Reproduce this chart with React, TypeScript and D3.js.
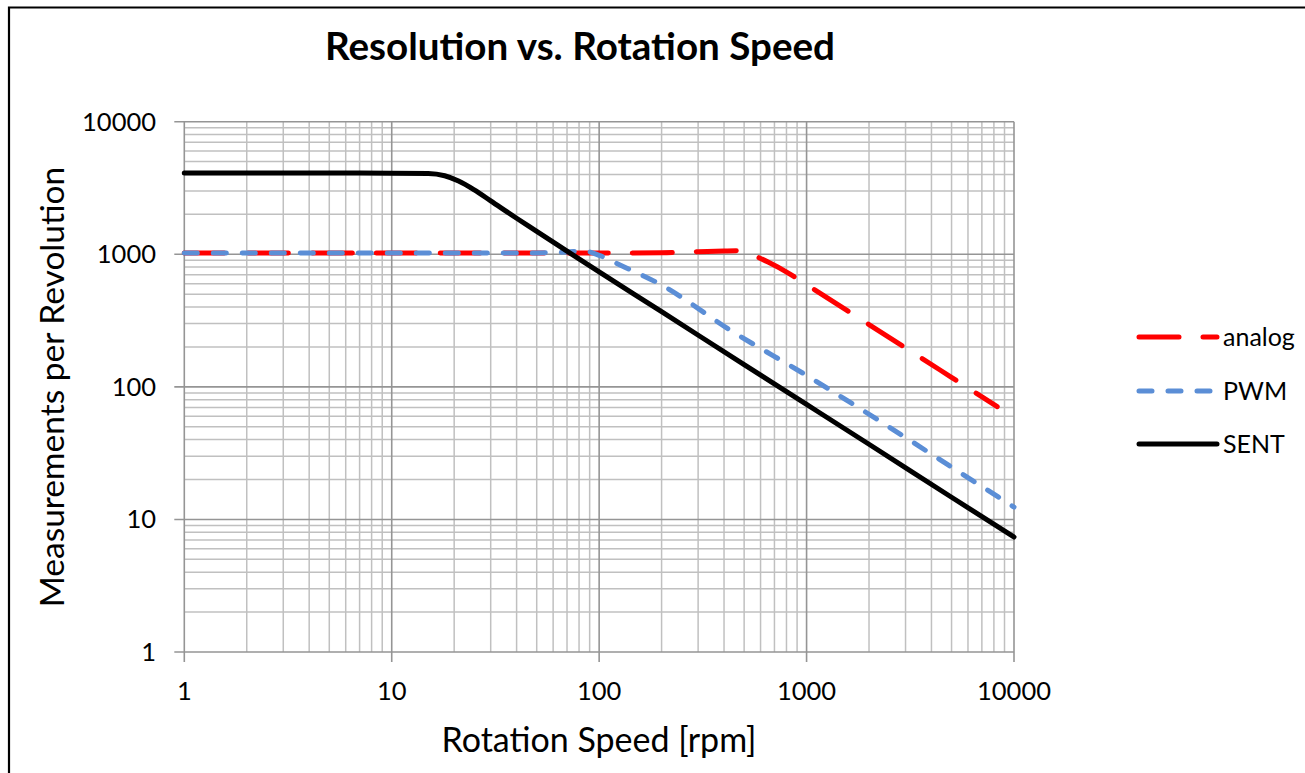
import React from "react";
import * as d3 from "d3";

const W = 1305;
const H = 773;

const title = "Resolution vs. Rotation Speed";
const xTitle = "Rotation Speed [rpm]";
const yTitle = "Measurements per Revolution";

const majorTicks = [1, 10, 100, 1000, 10000];
const tickLabels = ["1", "10", "100", "1000", "10000"];

const analogRpm = [1, 10, 100, 200, 300, 400, 460, 520, 577, 652, 813, 1000, 2000, 4400, 8300];
const analogVal = [1024, 1024, 1024, 1026, 1045, 1058, 1062, 1030, 957, 873, 725, 590, 295, 134, 71];

const pwmRpm = [1, 10, 50, 70, 84, 100, 126, 200, 428, 1000, 2262, 5000, 10000];
const pwmVal = [1024, 1024, 1024, 1040, 1060, 982, 830, 586, 268, 122, 55, 24.8, 12.4];

const sentRpm = [1, 5, 10, 15, 18, 21, 25, 30, 40, 50, 70, 100, 200, 500, 1000, 2000, 5000, 10000];
const sentVal = [4096, 4096, 4092, 4070, 3910, 3570, 3060, 2530, 1870, 1490, 1055, 737, 369, 147, 73.7, 36.9, 14.7, 7.37];

const seriesNames = ["analog", "PWM", "SENT"];

const FONT = "Lato, 'Open Sans', sans-serif";

export default function App() {
  const left = 184.3, right = 1014, top = 121.7, bottom = 652;
  const x = d3.scaleLog().domain([1, 10000]).range([left, right]);
  const y = d3.scaleLog().domain([1, 10000]).range([bottom, top]);

  const minor: number[] = [];
  for (let d = 1; d < 10000; d *= 10) {
    for (let k = 2; k <= 9; k++) minor.push(d * k);
  }

  const line = d3
    .line<[number, number]>()
    .x((p) => x(p[0]))
    .y((p) => y(p[1]))
    .curve(d3.curveMonotoneX);

  const zip = (a: number[], b: number[]) => a.map((v, i) => [v, b[i]] as [number, number]);

  const series = [
    { name: seriesNames[0], pts: zip(analogRpm, analogVal), color: "#FF0000", dash: "40 24" },
    { name: seriesNames[1], pts: zip(pwmRpm, pwmVal), color: "#5B8ED6", dash: "13 16" },
    { name: seriesNames[2], pts: zip(sentRpm, sentVal), color: "#000000", dash: "none" },
  ];

  const legendY = [337, 391, 444];

  return (
    <svg
      width={W}
      height={H}
      style={{ position: "fixed", left: 0, top: 0, background: "#fff" }}
      fontFamily={FONT}
    >
      <rect x={0} y={0} width={W} height={H} fill="#fff" />
      <path d={`M9,${H} V7.5 H${W}`} fill="none" stroke="#000" strokeWidth={2.2} />

      <text x={580} y={60} textAnchor="middle" fontSize={38.6} fontWeight="bold" fill="#000">
        {title}
      </text>

      {/* minor grid */}
      <g stroke="#C0C0C0" strokeWidth={1.5}>
        {minor.map((v) => (
          <line key={"vx" + v} x1={x(v)} x2={x(v)} y1={top} y2={bottom} />
        ))}
        {minor.map((v) => (
          <line key={"hy" + v} x1={left} x2={right} y1={y(v)} y2={y(v)} />
        ))}
      </g>
      {/* major grid */}
      <g stroke="#959595" strokeWidth={1.6}>
        {majorTicks.map((v) => (
          <line key={"mx" + v} x1={x(v)} x2={x(v)} y1={top} y2={bottom + 10} />
        ))}
        {majorTicks.map((v) => (
          <line key={"my" + v} x1={left - 10} x2={right} y1={y(v)} y2={y(v)} />
        ))}
      </g>

      {/* tick labels */}
      <g fontSize={25.5} fill="#000">
        {majorTicks.map((v, i) => (
          <text key={"xl" + v} x={x(v)} y={700} textAnchor="middle">
            {tickLabels[i]}
          </text>
        ))}
        {majorTicks.map((v, i) => (
          <text key={"yl" + v} x={156} y={y(v)} dy="0.35em" textAnchor="end">
            {tickLabels[i]}
          </text>
        ))}
      </g>

      <text x={599} y={752} textAnchor="middle" fontSize={34} fill="#000">
        {xTitle}
      </text>
      <text
        transform={`translate(64,387) rotate(-90)`}
        textAnchor="middle"
        fontSize={33.5}
        fill="#000"
      >
        {yTitle}
      </text>

      {/* series */}
      {series.map((s) => (
        <path
          key={s.name}
          d={line(s.pts) || ""}
          fill="none"
          stroke={s.color}
          strokeWidth={5}
          strokeDasharray={s.dash}
          strokeLinecap="round"
          strokeLinejoin="round"
        />
      ))}

      {/* legend */}
      {series.map((s, i) => (
        <g key={"lg" + s.name}>
          <line
            x1={1139}
            x2={1217}
            y1={legendY[i]}
            y2={legendY[i]}
            stroke={s.color}
            strokeWidth={5}
            strokeDasharray={s.dash === "none" ? "none" : s.dash}
            strokeLinecap="round"
          />
          <text x={1223} y={legendY[i]} dy="0.35em" fontSize={25} fill="#000">
            {s.name}
          </text>
        </g>
      ))}
    </svg>
  );
}
